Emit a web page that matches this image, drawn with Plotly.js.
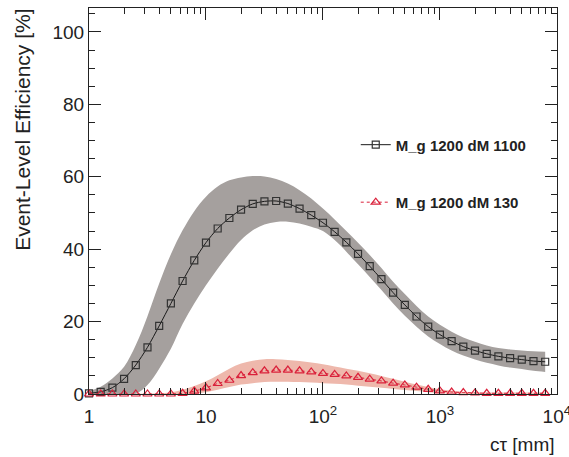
<!DOCTYPE html>
<html>
<head>
<meta charset="utf-8">
<script src="https://cdn.plot.ly/plotly-3.0.1.min.js"></script>
<style>html,body{margin:0;padding:0;background:#fff;}#chart{width:569px;height:457px;}</style>
</head>
<body>
<div id="chart"></div>
<script>
// c-tau values [mm]
var ctau = [1, 1.259, 1.585, 1.995, 2.512, 3.162, 3.981, 5.012, 6.310, 7.943,
  10, 12.59, 15.85, 19.95, 25.12, 31.62, 39.81, 50.12, 63.10, 79.43,
  100, 125.9, 158.5, 199.5, 251.2, 316.2, 398.1, 501.2, 631.0, 794.3,
  1000, 1259, 1585, 1995, 2512, 3162, 3981, 5012, 6310, 7943];

// M_g 1200 dM 1100
var effA = [0.2, 0.6, 1.75, 4.2, 8.0, 12.9, 18.8, 25.0, 31.2, 36.9,
  41.8, 45.7, 48.6, 50.9, 52.5, 53.2, 53.3, 52.6, 51.2, 49.4,
  47.3, 44.8, 41.9, 38.7, 35.3, 31.7, 28.0, 24.6, 21.4, 18.6,
  16.4, 14.6, 13.1, 12.0, 11.1, 10.4, 9.9, 9.5, 9.1, 8.9];
var effAUp = [0.8, 2.0, 4.3, 7.5, 13.5, 21.5, 30.5, 38.6, 45.2, 50.5,
  54.5, 57.3, 59.0, 59.8, 60.2, 60.1, 59.4, 58.1, 56.3, 54.0,
  51.2, 48.2, 45.0, 41.8, 38.4, 34.8, 31.0, 27.6, 24.3, 21.4,
  19.1, 17.2, 15.6, 14.4, 13.4, 12.7, 12.3, 12.0, 11.8, 11.7];
var effALo = [0, 0, 0, 0, 0.1, 2.5, 7.0, 12.5, 19.3, 25.0,
  30.0, 34.6, 38.8, 42.5, 45.2, 46.8, 47.5, 47.6, 47.1, 46.2,
  45.0, 42.5, 39.3, 35.8, 32.3, 28.7, 25.0, 21.6, 18.6, 15.9,
  13.8, 12.0, 10.6, 9.5, 8.6, 7.9, 7.3, 6.9, 6.4, 6.1];

// M_g 1200 dM 130
var effB = [0, 0, 0, 0, 0, 0, 0, 0, 0.2, 0.8,
  1.7, 2.9, 3.8, 5.1, 5.9, 6.4, 6.6, 6.6, 6.4, 6.1,
  5.7, 5.4, 5.0, 4.6, 4.1, 3.6, 3.0, 2.5, 1.9, 1.3,
  0.85, 0.55, 0.4, 0.3, 0.2, 0.2, 0.2, 0.2, 0.2, 0.2];
var effBUp = [0, 0, 0, 0, 0.05, 0.1, 0.2, 0.5, 1.2, 2.2,
  3.5, 5.2, 7.0, 8.4, 9.2, 9.6, 9.6, 9.4, 9.1, 8.7,
  8.2, 7.6, 7.0, 6.4, 5.7, 5.0, 4.2, 3.4, 2.6, 1.9,
  1.3, 0.9, 0.6, 0.5, 0.4, 0.4, 0.4, 0.4, 0.4, 0.4];
var effBLo = [0, 0, 0, 0, 0, 0, 0, 0, 0, 0.1,
  0.5, 1.2, 1.9, 2.6, 3.0, 3.3, 3.4, 3.4, 3.3, 3.2,
  3.0, 2.8, 2.6, 2.3, 2.0, 1.7, 1.4, 1.1, 0.8, 0.5,
  0.3, 0.2, 0.1, 0.1, 0.05, 0.05, 0.05, 0.05, 0.05, 0.05];

var nameA = 'M_g 1200 dM 1100';
var nameB = 'M_g 1200 dM 130';
var xTickVals = [1, 10, 100, 1000, 10000];
var xTickText = ['1', '10', '10<sup>2</sup>', '10<sup>3</sup>', '10<sup>4</sup>'];
var yTickVals = [0, 20, 40, 60, 80, 100];

var grayFill = 'rgb(165,160,158)';
var pinkFill = 'rgb(238,184,172)';
var redCol = 'rgb(218,32,58)';
var blackCol = '#1a1a1a';

var traces = [
  {x: ctau, y: effALo, mode: 'lines', line: {width: 0, shape: 'spline', smoothing: 1}, showlegend: false, hoverinfo: 'skip'},
  {x: ctau, y: effAUp, mode: 'lines', fill: 'tonexty', fillcolor: grayFill, line: {width: 0, shape: 'spline', smoothing: 1}, showlegend: false, hoverinfo: 'skip'},
  {x: ctau, y: effBLo, mode: 'lines', line: {width: 0, shape: 'spline', smoothing: 1}, showlegend: false, hoverinfo: 'skip'},
  {x: ctau, y: effBUp, mode: 'lines', fill: 'tonexty', fillcolor: pinkFill, line: {width: 0, shape: 'spline', smoothing: 1}, showlegend: false, hoverinfo: 'skip'},
  {x: ctau, y: effA, name: nameA, legendgroup: 'a', mode: 'lines+markers', cliponaxis: false,
   line: {color: blackCol, width: 1, shape: 'spline', smoothing: 0.8},
   marker: {symbol: 'square-open', size: 7, color: '#333', line: {width: 1.2, color: '#333'}}},
  {x: ctau, y: effB, name: nameB, legendgroup: 'b', mode: 'lines+markers', cliponaxis: false,
   line: {color: redCol, width: 1, dash: '3px,3px', shape: 'spline', smoothing: 0.8},
   marker: {symbol: 'triangle-up-open', size: 8, color: redCol, line: {width: 1.2, color: redCol}}}
];

var fontFam = 'Liberation Sans, Arial, sans-serif';
var layout = {
  width: 569, height: 457,
  margin: {l: 89, r: 12, t: 8, b: 63},
  paper_bgcolor: '#fff', plot_bgcolor: '#fff',
  font: {family: fontFam, color: '#222'},
  showlegend: true,
  legend: {x: 0.57, y: 0.688, xanchor: 'left', yanchor: 'top', bgcolor: 'rgba(0,0,0,0)',
    font: {family: fontFam, size: 15, weight: 'bold', color: '#222'}, tracegroupgap: 35},
  xaxis: {type: 'log', range: [0, 4.001], tickmode: 'array', tickvals: xTickVals, ticktext: xTickText,
    ticks: 'inside', ticklen: 12, tickwidth: 1, tickcolor: '#222', ticklabelstandoff: 5,
    ticklabeloverflow: 'allow',
    showline: true, linecolor: '#222', linewidth: 1, mirror: 'ticks',
    showgrid: false, zeroline: false, tickfont: {size: 19, family: fontFam, color: '#222'},
    minor: {dtick: 'D1', ticks: 'inside', ticklen: 6, tickcolor: '#222', showgrid: false}},
  yaxis: {range: [0, 106.6], tickmode: 'array', tickvals: yTickVals,
    ticks: 'inside', ticklen: 12, tickwidth: 1, tickcolor: '#222',
    showline: true, linecolor: '#222', linewidth: 1, mirror: 'ticks',
    showgrid: false, zeroline: false, tickfont: {size: 19, family: fontFam, color: '#222'},
    minor: {dtick: 5, ticks: 'inside', ticklen: 6, tickcolor: '#222', showgrid: false}},
  annotations: [
    {text: 'Event-Level Efficiency [%]', textangle: -90, xref: 'paper', yref: 'paper',
     x: -0.141, y: 1.003, xanchor: 'center', yanchor: 'top', showarrow: false,
     font: {family: fontFam, size: 21, color: '#222'}},
    {text: 'c\u03c4 [mm]', xref: 'paper', yref: 'paper', x: 1.0, y: -0.13,
     xanchor: 'right', yanchor: 'middle', showarrow: false,
     font: {family: fontFam, size: 19, color: '#222'}}
  ]
};

Plotly.newPlot('chart', traces, layout, {staticPlot: true, displayModeBar: false});
</script>
</body>
</html>
